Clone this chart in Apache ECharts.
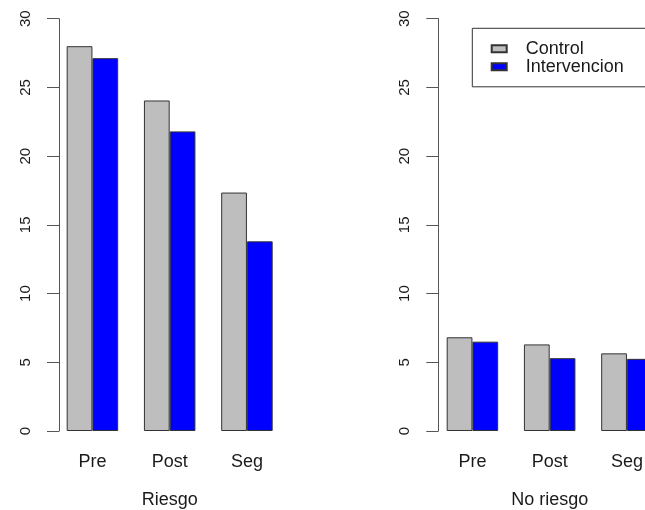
<!DOCTYPE html>
<html>
<head>
<meta charset="utf-8">
<script src="https://cdn.jsdelivr.net/npm/echarts@6/dist/echarts.min.js"></script>
<style>
html,body{margin:0;padding:0;background:#fff;}
#chart{width:645px;height:510px;}
</style>
</head>
<body>
<div id="chart"></div>
<script>
const categories = ['Pre', 'Post', 'Seg'];
const seriesNames = ['Control', 'Intervencion'];
const panelNames = ['Riesgo', 'No riesgo'];
const riesgoControl = [28.0, 24.05, 17.35];
const riesgoIntervencion = [27.13, 21.8, 13.8];
const noRiesgoControl = [6.82, 6.3, 5.65];
const noRiesgoIntervencion = [6.5, 5.3, 5.25];
const yMin = 0, yMax = 30, yStep = 5;

const FONT = 'Liberation Sans, Arial, Helvetica, sans-serif';
const TXT = '#1a1a1a';
const AX = '#555';
const U = 25.75;

const chart = echarts.init(document.getElementById('chart'), null, {renderer: 'canvas'});

function grid(left) {
  return {left: left, top: 18.7, width: 9 * U, height: 412.3, containLabel: false, outerBoundsMode: 'none'};
}
function xAx(idx, name) {
  return {
    type: 'category', gridIndex: idx, data: categories,
    axisLine: {show: false}, axisTick: {show: false},
    axisLabel: {color: TXT, fontFamily: FONT, fontSize: 18, margin: 22},
    name: name, nameLocation: 'middle', nameGap: 60,
    nameTextStyle: {color: TXT, fontFamily: FONT, fontSize: 18}
  };
}
function yAx(idx, off) {
  return {
    type: 'value', gridIndex: idx, min: yMin, max: yMax, interval: yStep,
    offset: off,
    axisLine: {show: true, lineStyle: {color: AX, width: 1}},
    axisTick: {show: true, length: 12, lineStyle: {color: AX, width: 1}},
    axisLabel: {color: TXT, fontFamily: FONT, fontSize: 15, rotate: 90, margin: 26},
    splitLine: {show: false}
  };
}
function bar(name, data, idx, color) {
  return {
    type: 'bar', name: name, data: data, xAxisIndex: idx, yAxisIndex: idx,
    barWidth: U, barGap: '0%', barCategoryGap: '33.333%',
    itemStyle: {color: color, borderColor: '#333', borderWidth: 1},
    emphasis: {disabled: true}, animation: false
  };
}

chart.setOption({
  animation: false,
  backgroundColor: '#fff',
  grid: [grid(53.8), grid(433.8)],
  xAxis: [xAx(0, panelNames[0]), xAx(1, panelNames[1])],
  yAxis: [yAx(0, -5.2), yAx(1, -4.5)],
  legend: {
    data: seriesNames.map(n => ({name: n, icon: 'rect'})),
    orient: 'vertical', left: 472.3, top: 28.3,
    itemWidth: 15, itemHeight: 7, itemGap: 0,
    padding: [11.5, 30, 11, 18.4],
    borderColor: '#333', borderWidth: 1, borderRadius: 0,
    textStyle: {color: TXT, fontFamily: FONT, fontSize: 18, lineHeight: 18, padding: [0, 0, 0, 14]},
    selectedMode: false
  },
  series: [
    bar(seriesNames[0], riesgoControl, 0, '#BEBEBE'),
    bar(seriesNames[1], riesgoIntervencion, 0, '#0000FF'),
    bar(seriesNames[0], noRiesgoControl, 1, '#BEBEBE'),
    bar(seriesNames[1], noRiesgoIntervencion, 1, '#0000FF')
  ]
});
</script>
</body>
</html>
